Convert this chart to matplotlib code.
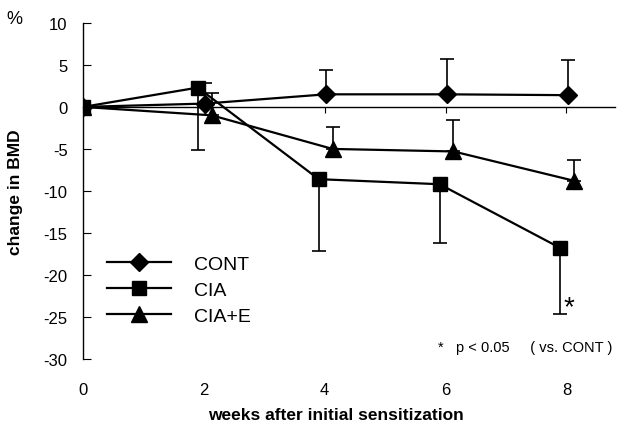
import matplotlib
matplotlib.use("Agg")
import matplotlib.pyplot as plt
import numpy as np

plt.rcParams['font.family'] = ['Liberation Sans', 'DejaVu Sans']
plt.rcParams['axes.unicode_minus'] = False

# BMD change (%) vs weeks after initial sensitization
weeks = np.array([0, 2, 4, 6, 8])
cont = [0, 0.4, 1.5, 1.5, 1.4]
cont_err = [0, 2.5, 2.9, 4.2, 4.2]      # upward only
cia = [0, 2.3, -8.6, -9.2, -16.8]
cia_err = [0, 7.4, 8.6, 7.0, 7.8]       # downward only
ciae = [0, -1.0, -5.0, -5.3, -8.8]
ciae_err = [0, 2.6, 2.6, 3.7, 2.5]      # upward only

labels = ['CONT', 'CIA', 'CIA+E']
yticks = [-30, -25, -20, -15, -10, -5, 0, 5, 10]

fig = plt.figure(figsize=(6.17, 4.27), dpi=100)
ax = fig.add_axes([0.1345, 0.157, 0.862, 0.787])

def xs(off):
    return weeks + off * (weeks > 0)

zeros = [0] * len(weeks)
kw = dict(color='black', lw=1.6, ecolor='black', elinewidth=1.2, capsize=5, capthick=1.2)
e1 = ax.errorbar(xs(0.02), cont, yerr=[zeros, cont_err], marker='D', ms=9, **kw)
e2 = ax.errorbar(xs(-0.1), cia, yerr=[cia_err, zeros], marker='s', ms=9.5, **kw)
e3 = ax.errorbar(xs(0.13), ciae, yerr=[zeros, ciae_err], marker='^', ms=11, **kw)

ax.set_xlim(0, 8.8)
ax.set_ylim(-30, 10)
ax.set_yticks(yticks)
ax.set_xticks(weeks)
ax.spines['top'].set_visible(False)
ax.spines['right'].set_visible(False)
ax.spines['bottom'].set_position(('data', 0))
ax.spines['bottom'].set_linewidth(1.0)
ax.spines['left'].set_linewidth(1.0)
ax.tick_params(axis='y', direction='in', length=6, labelsize=12, pad=11)
ax.tick_params(axis='x', direction='out', length=4, labelsize=12, pad=194)

ax.set_ylabel('change in BMD', fontsize=12.5, fontweight='bold')
ax.yaxis.set_label_coords(-0.113, 0.5)
fig.text(0.545, 0.028, 'weeks after initial sensitization', fontsize=12.5,
         fontweight='bold', ha='center', va='center')
fig.text(0.024, 0.955, '%', fontsize=13, ha='center', va='center')

ax.text(7.95, -23.8, '*', fontsize=20, ha='left', va='center')
ax.text(8.76, -28.6, '*   p < 0.05     ( vs. CONT )', fontsize=10.5, ha='right', va='center')

ax.legend([e1[0], e2[0], e3[0]], labels, loc='upper left', bbox_to_anchor=(0.012, 0.36),
          frameon=False, fontsize=14, handlelength=3.3, labelspacing=0.42, handletextpad=1.2)

fig.savefig('out.png', dpi=100)
